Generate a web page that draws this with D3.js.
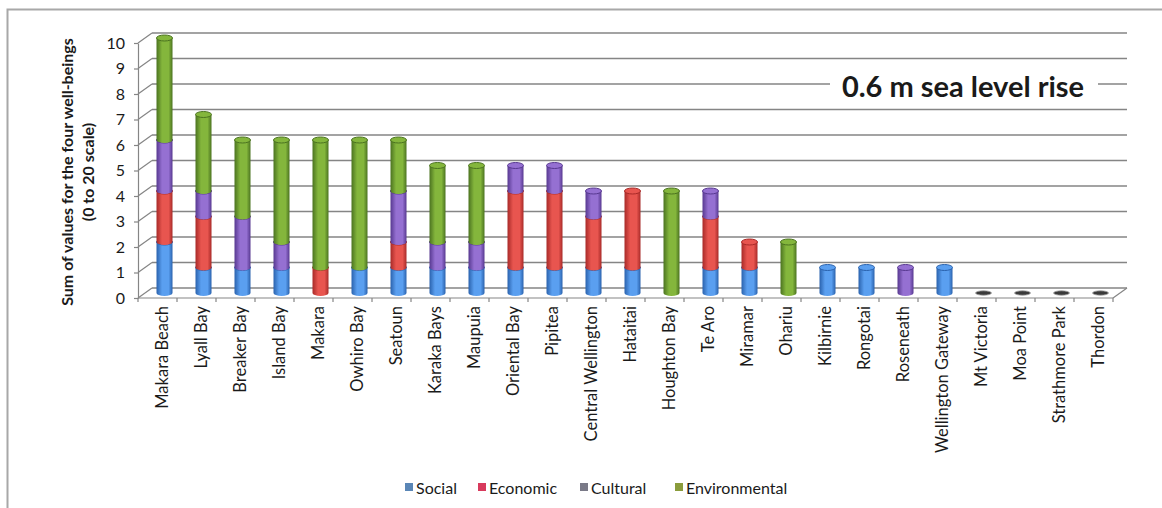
<!DOCTYPE html>
<html>
<head>
<meta charset="utf-8">
<script src="https://cdn.jsdelivr.net/npm/d3@7/dist/d3.min.js"></script>
<style>
  html, body { margin: 0; padding: 0; background: #fff; }
  svg { display: block; }
  text { font-family: Lato, "Open Sans", sans-serif; fill: #1a1a1a; }
</style>
</head>
<body>
<svg id="chart" width="1162" height="508"></svg>
<script>
// Suburbs, ordered by total score
const categories = [
  "Makara Beach", "Lyall Bay", "Breaker Bay", "Island Bay", "Makara", "Owhiro Bay",
  "Seatoun", "Karaka Bays", "Maupuia", "Oriental Bay", "Pipitea", "Central Wellington",
  "Hataitai", "Houghton Bay", "Te Aro", "Miramar", "Ohariu", "Kilbirnie", "Rongotai",
  "Roseneath", "Wellington Gateway", "Mt Victoria", "Moa Point", "Strathmore Park", "Thordon"
];
const seriesNames = ["Social", "Economic", "Cultural", "Environmental"];
const social        = [2,1,1,1,0,1,1,1,1,1,1,1,1,0,1,1,0,1,1,0,1,0,0,0,0];
const economic      = [2,2,0,0,1,0,1,0,0,3,3,2,3,0,2,1,0,0,0,0,0,0,0,0,0];
const cultural      = [2,1,2,1,0,0,2,1,1,1,1,1,0,0,1,0,0,0,0,1,0,0,0,0,0];
const environmental = [4,3,3,4,5,5,2,3,3,0,0,0,0,4,0,0,2,0,0,0,0,0,0,0,0];
const yTicks = [0,1,2,3,4,5,6,7,8,9,10];
const titleText = "0.6 m sea level rise";
const yTitleLines = ["Sum of values for the four well-beings", "(0 to 20 scale)"];

// cylinder shading: [edge, highlight] per series; legend swatch colours
const shades = {
  Social:        ["#2a62ad", "#5a9ff0"],
  Economic:      ["#a82a28", "#e8554f"],
  Cultural:      ["#573890", "#9570d2"],
  Environmental: ["#4b7320", "#84b63c"]
};
const swatch = {
  Social: "#5a86b6", Economic: "#d83a5c", Cultural: "#7a7a88", Environmental: "#8a9c3c"
};

const svg = d3.select("#chart");
const W = 1162, H = 508;

// frame
svg.append("path")
  .attr("d", `M7.5,${H} L7.5,9.5 L${W},9.5`)
  .attr("fill", "none").attr("stroke", "#a8a8a8").attr("stroke-width", 2);

// 3-D geometry: front plane and a depth offset for the back wall
const depthX = 14, depthY = -10;
const x = d3.scaleBand().domain(categories).range([138, 1113]).paddingInner(0).paddingOuter(0);
const yFront = d3.scaleLinear().domain([0, 10]).range([298, 43]);
const yBack = v => yFront(v) + depthY;
const yMid = v => yFront(v) + depthY / 2;

const gridColor = "#858585";
const grid = svg.append("g");
// side-wall diagonals and back-wall gridlines
yTicks.forEach(v => {
  grid.append("line")
    .attr("x1", 138).attr("y1", yFront(v)).attr("x2", 138 + depthX).attr("y2", yBack(v))
    .attr("stroke", gridColor).attr("stroke-width", 1.2);
  grid.append("line")
    .attr("x1", 138 + depthX).attr("y1", yBack(v)).attr("x2", 1113 + depthX).attr("y2", yBack(v))
    .attr("stroke", gridColor).attr("stroke-width", 1.5);
});
// floor edges
grid.append("line").attr("x1", 138).attr("y1", yFront(0)).attr("x2", 1113).attr("y2", yFront(0))
  .attr("stroke", gridColor).attr("stroke-width", 1.2);
grid.append("line").attr("x1", 1113).attr("y1", yFront(0)).attr("x2", 1113 + depthX).attr("y2", yBack(0))
  .attr("stroke", gridColor).attr("stroke-width", 1.2);

// y axis on the front plane
const yAxis = d3.axisLeft(yFront).tickValues(yTicks).tickSize(4).tickSizeOuter(0).tickPadding(9);
const ya = svg.append("g").attr("transform", "translate(138,0)").call(yAxis);
ya.select(".domain").attr("stroke", gridColor).attr("stroke-width", 1.2);
ya.selectAll(".tick line").attr("stroke", gridColor).attr("stroke-width", 1.2);
ya.selectAll(".tick text").style("font-size", "16px").attr("fill", "#222")
  .style("font-family", "Lato, sans-serif");

// x axis ticks and rotated labels
const xa = svg.append("g");
categories.concat([null]).forEach((c, i) => {
  const px = 138 + i * x.step();
  xa.append("line").attr("x1", px).attr("x2", px).attr("y1", yFront(0)).attr("y2", yFront(0) + 4)
    .attr("stroke", gridColor).attr("stroke-width", 1.2);
});
xa.selectAll("text.cat").data(categories).join("text")
  .attr("class", "cat")
  .attr("transform", d => `translate(${x(d) + x.bandwidth() / 2 + 4},${yFront(0) + 8}) rotate(-90)`)
  .attr("text-anchor", "end")
  .attr("dominant-baseline", "central")
  .style("font-size", "16.5px")
  .text(d => d);

// gradients for cylinders
const defs = svg.append("defs");
seriesNames.forEach(s => {
  const g = defs.append("linearGradient").attr("id", "g-" + s)
    .attr("x1", "0%").attr("x2", "100%").attr("y1", "0%").attr("y2", "0%");
  g.append("stop").attr("offset", "0%").attr("stop-color", shades[s][0]);
  g.append("stop").attr("offset", "35%").attr("stop-color", shades[s][1]);
  g.append("stop").attr("offset", "75%").attr("stop-color", shades[s][1]);
  g.append("stop").attr("offset", "100%").attr("stop-color", shades[s][0]);
});

// stacked data
const rows = categories.map((c, i) => ({
  name: c, Social: social[i], Economic: economic[i], Cultural: cultural[i], Environmental: environmental[i]
}));
const stack = d3.stack().keys(seriesNames)(rows);

const rx = 8, ry = 3;
const bars = svg.append("g");
categories.forEach((c, i) => {
  const cx = x(c) + x.bandwidth() / 2 + depthX / 2;
  const total = seriesNames.reduce((a, s) => a + rows[i][s], 0);
  if (total === 0) {
    bars.append("ellipse").attr("cx", cx).attr("cy", yMid(0)).attr("rx", rx).attr("ry", 2.2)
      .attr("fill", "#3a3a3a").attr("stroke", "#9a9a9a").attr("stroke-width", 0.8);
    return;
  }
  stack.forEach(layer => {
    const seg = layer[i];
    if (seg[1] - seg[0] <= 0) return;
    const s = layer.key;
    const top = yMid(seg[1]), bot = yMid(seg[0]);
    bars.append("path")
      .attr("d", `M${cx - rx},${top} L${cx - rx},${bot} A${rx},${ry} 0 0 0 ${cx + rx},${bot} L${cx + rx},${top} Z`)
      .attr("fill", `url(#g-${s})`);
    bars.append("ellipse").attr("cx", cx).attr("cy", top).attr("rx", rx).attr("ry", ry)
      .attr("fill", shades[s][1]).attr("stroke", shades[s][0]).attr("stroke-width", 1);
  });
});

// chart title on a white box
const titleG = svg.append("g");
titleG.append("rect").attr("x", 830).attr("y", yBack(8) - 16).attr("width", 268).attr("height", 32)
  .attr("fill", "#fff");
titleG.append("text").attr("x", 963).attr("y", yBack(8) + 1).attr("text-anchor", "middle")
  .attr("dominant-baseline", "central")
  .style("font-size", "29px").style("font-weight", "bold").attr("fill", "#111")
  .text(titleText);

// y-axis title
const yt = svg.append("text")
  .attr("transform", "translate(73,172) rotate(-90)")
  .attr("text-anchor", "middle")
  .style("font-size", "16px").style("font-weight", "bold");
yTitleLines.forEach((t, k) => {
  yt.append("tspan").attr("x", 0).attr("dy", k === 0 ? 0 : 21).text(t);
});

// legend
const legendX = [405, 478, 580, 675];
const lg = svg.append("g");
seriesNames.forEach((s, k) => {
  lg.append("rect").attr("x", legendX[k]).attr("y", 483).attr("width", 8).attr("height", 8)
    .attr("fill", swatch[s]);
  lg.append("text").attr("x", legendX[k] + 11).attr("y", 487)
    .attr("dominant-baseline", "central").style("font-size", "16px").text(s);
});
</script>
</body>
</html>
